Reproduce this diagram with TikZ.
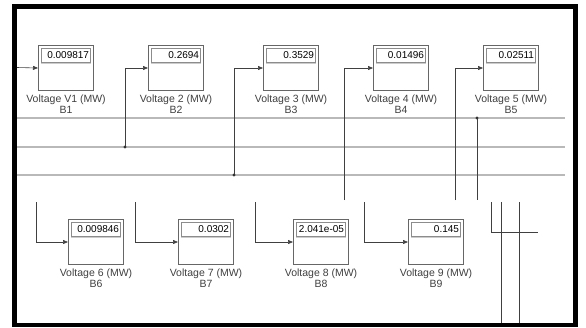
\documentclass[tikz,border=0pt]{standalone}
\usepackage{fontspec}
\setmainfont{Liberation Sans}
\usetikzlibrary{arrows.meta}

\begin{document}
\begin{tikzpicture}[x=1pt, y=-1pt, line width=0.6pt,
        meter/.style={draw=black!60,line width=1pt,minimum width=55pt,minimum height=45pt,
                      inner sep=0pt,anchor=north west},
        readout/.style={draw=black!45,line width=0.6pt,minimum width=49pt,minimum height=14pt,
                        text width=46pt,align=right,inner sep=1pt,anchor=north,
                        font=\fontsize{10}{10}\selectfont},
        tag/.style={anchor=north,align=center,inner sep=1.5pt,text=black!75,
                    font=\fontsize{10.5}{11}\selectfont},
        wire/.style={draw=black!75,line width=0.6pt},
        feed/.style={wire,-{Triangle[length=5pt,width=4pt]}},
        bus/.style={draw=gray!55,line width=1.1pt},
        tap/.style={fill=black!80}]
      \useasboundingbox (0,0) rectangle (586,327);
      \def\tr{1.6} % tap dot radius
      \newcommand{\voltmeter}[5]{% name, x, y, value, label
        \node[meter] (#1) at (#2,#3) {};
        \node[readout] (#1r) at ([yshift=-2.5pt]#1.north) {#4};
        \draw[gray!40,line width=0.5pt] ([yshift=-1.5pt]#1r.south west) -- ([yshift=-1.5pt]#1r.south east);
        \node[tag] (#1t) at ([yshift=-2pt]#1.south) {#5};
      }
      % outer frame
      \draw[line width=4.5pt] (14.5,6.5) rectangle (575.5,325);
      % three bus lines
      \foreach \bn/\by in {A/118,B/147,C/175}{
        \coordinate (bus\bn w) at (17,\by);
        \coordinate (bus\bn e) at (565,\by);
        \draw[bus] (bus\bn w) -- (bus\bn e);
      }
      % upper row of displays
      \voltmeter{v1}{38}{45}{0.009817}{Voltage V1 (MW)\\B1}
      \voltmeter{v2}{148}{45}{0.2694}{Voltage 2 (MW)\\B2}
      \voltmeter{v3}{263}{45}{0.3529}{Voltage 3 (MW)\\B3}
      \voltmeter{v4}{373}{45}{0.01496}{Voltage 4 (MW)\\B4}
      \voltmeter{v5}{483}{45}{0.02511}{Voltage 5 (MW)\\B5}
      % lower row of displays
      \voltmeter{v6}{68}{219}{0.009846}{Voltage 6 (MW)\\B6}
      \voltmeter{v7}{178}{219}{0.0302}{Voltage 7 (MW)\\B7}
      \voltmeter{v8}{293}{219}{2.041e-05}{Voltage 8 (MW)\\B8}
      \voltmeter{v9}{408}{219}{0.145}{Voltage 9 (MW)\\B9}
      % feeds into the upper row
      \coordinate (in1) at (17,67.5);
      \coordinate (t2) at (125,147);
      \coordinate (t3) at (234,175);
      \coordinate (s4) at (344,200);
      \coordinate (s5) at (455,200);
      \coordinate (tx) at (477,118);
      \coordinate (sx) at (477,200);
      \draw[feed] (in1) -- (v1.west);
      \draw[feed] (t2) |- (v2.west);
      \draw[feed] (t3) |- (v3.west);
      \draw[feed] (s4) |- (v4.west);
      \draw[feed] (s5) |- (v5.west);
      \draw[wire] (tx) -- (sx);
      \foreach \t in {t2,t3,tx}{\fill[tap] (\t) circle(\tr);}
      % feeds into the lower row
      \foreach \v/\sx in {v6/36,v7/135,v8/255,v9/364}{
        \coordinate (s\v) at (\sx,202);
        \draw[feed] (s\v) |- (\v.west);
      }
      % loose wires at the right
      \coordinate (ra) at (491,202);
      \coordinate (rb) at (491,232);
      \coordinate (rc) at (538,232);
      \coordinate (rd) at (501,202);
      \coordinate (re) at (501,323);
      \coordinate (rf) at (519,202);
      \coordinate (rg) at (519,323);
      \draw[wire] (ra) -- (rb) -- (rc);
      \draw[wire] (rd) -- (re);
      \draw[wire] (rf) -- (rg);
    \end{tikzpicture}
\end{document}
